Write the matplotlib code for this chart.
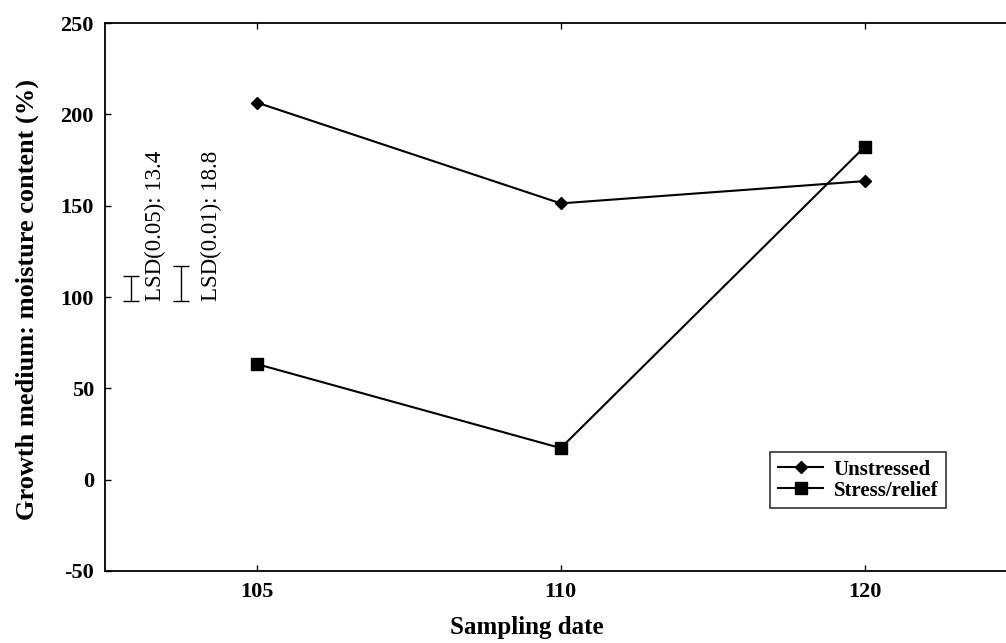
import matplotlib.pyplot as plt

# sampling dates (categorical, equally spaced)
dates = ['105', '110', '120']
unstressed = [206.5, 151.3, 163.5]
stress_relief = [63.3, 17.3, 182.2]

# least significant differences, drawn as bars starting at lsd_base
lsd_labels = ['LSD(0.05): 13.4', 'LSD(0.01): 18.8']
lsd_values = [13.4, 18.8]
lsd_base = 98

plt.rcParams['font.family'] = ['Liberation Serif', 'DejaVu Serif']
plt.rcParams['axes.unicode_minus'] = False

fig = plt.figure(figsize=(10.06, 6.43), dpi=100)
ax = fig.add_axes([0.1044, 0.112, 0.906, 0.852])

xpos = list(range(len(dates)))
ax.plot(xpos, unstressed, color='black', lw=1.5, marker='D', ms=6,
        label='Unstressed')
ax.plot(xpos, stress_relief, color='black', lw=1.5, marker='s', ms=8,
        label='Stress/relief')

# LSD bars with their labels
bar_x = [-0.416, -0.251]
text_x = [-0.335, -0.15]
for bx, tx, val, lab in zip(bar_x, text_x, lsd_values, lsd_labels):
    ax.errorbar(bx, lsd_base + val / 2, yerr=val / 2, color='black',
                lw=1, capsize=6, capthick=1)
    ax.text(tx, lsd_base, lab, rotation=90, ha='center', va='bottom',
            fontsize=16.5)

ax.set_xlim(-0.5, 2.5)
ax.set_ylim(-50, 250)
ax.set_xticks(xpos)
ax.set_xticklabels(dates)
ax.set_yticks([-50, 0, 50, 100, 150, 200, 250])
ax.tick_params(direction='in', length=4, width=1, top=True,
               labelsize=16, pad=8)
for t in ax.get_xticklabels() + ax.get_yticklabels():
    t.set_fontweight('bold')

for s in ['left', 'bottom', 'top']:
    ax.spines[s].set_linewidth(1.3)
ax.spines['right'].set_visible(False)

ax.set_xlabel('Sampling date', fontsize=18, fontweight='bold')
ax.xaxis.set_label_coords(0.463, -0.083)
ax.set_ylabel('Growth medium: moisture content (%)', fontsize=19,
              fontweight='bold')
ax.yaxis.set_label_coords(-0.072, 0.495)

leg = ax.legend(loc='lower left', bbox_to_anchor=(0.73, 0.115),
                borderaxespad=0, frameon=True, fancybox=False,
                prop={'weight': 'bold', 'size': 15}, handlelength=2.2,
                labelspacing=0.05, borderpad=0.35, handletextpad=0.5)
leg.get_frame().set_edgecolor('black')
leg.get_frame().set_linewidth(1.2)

plt.savefig('out.png', dpi=100)
